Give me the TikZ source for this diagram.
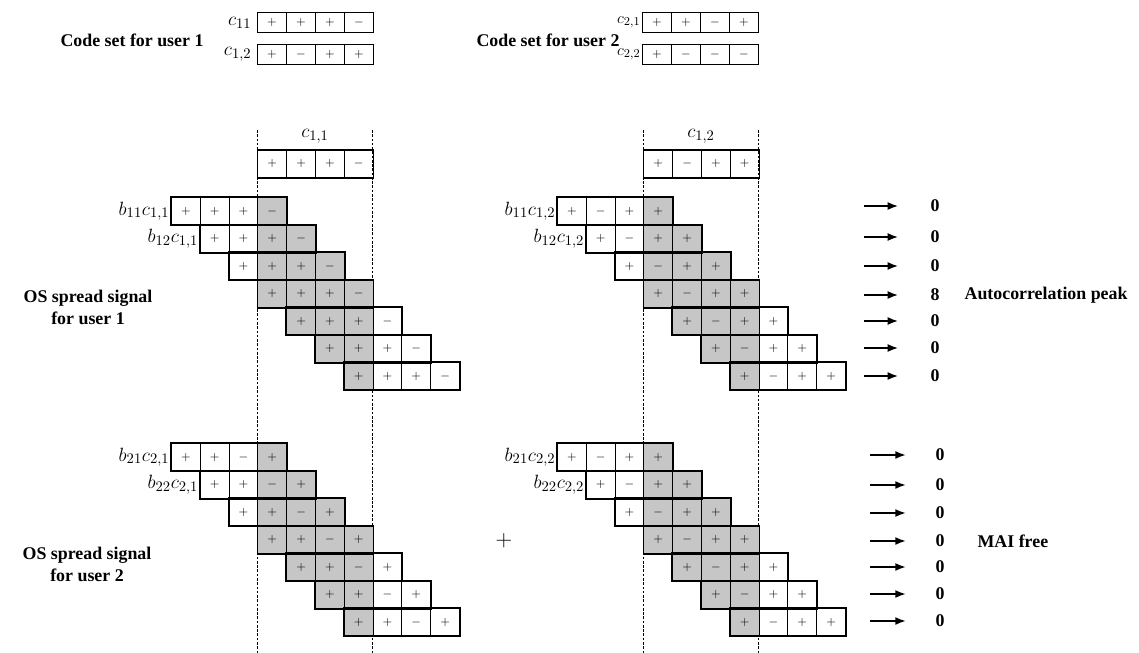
\documentclass[tikz,border=0pt]{standalone}
\usepackage{fontspec}
\setmainfont{Liberation Serif}
\usetikzlibrary{positioning,arrows.meta}
\tikzset{
  chip/.style={draw,line width=0.7pt,minimum width=21.6pt,minimum height=20.6pt,
    inner sep=0pt,anchor=north west,font=\fontsize{9.5}{10}\selectfont},
  chip-code/.style={chip,minimum height=15pt},
  chip-head/.style={chip,minimum height=20.2pt},
  row-frame/.style={draw,line width=1.3pt},
  txt/.style={font=\fontsize{13.4}{16.5}\selectfont\bfseries,align=center,inner sep=1pt},
  sym/.style={font=\fontsize{15}{17}\selectfont,inner sep=1pt},
  bound/.style={line width=1pt,dash pattern=on 2pt off 1.2pt},
  arrow/.style={-{Latex[length=8pt,width=6pt]},line width=1.3pt},
}

\begin{document}
\begin{tikzpicture}[x=0.75pt,y=-0.75pt]
  \useasboundingbox (0,0) rectangle (1139,653);

  % code sets
  \node[txt] (set1) at (132,40) {Code set for user 1};
  \node[txt] (set2) at (548,40) {Code set for user 2};
  \foreach \s [count=\j from 0] in {+,+,+,-}
    \node[chip-code] (c11-\j) at (257+\j*29,12) {$\s$};
  \foreach \s [count=\j from 0] in {+,-,+,+}
    \node[chip-code] (c12-\j) at (257+\j*29,44) {$\s$};
  \foreach \s [count=\j from 0] in {+,+,-,+}
    \node[chip-code] (c21-\j) at (642+\j*29,12) {$\s$};
  \foreach \s [count=\j from 0] in {+,-,-,-}
    \node[chip-code] (c22-\j) at (642+\j*29,44) {$\s$};
  \node[sym,left=3pt of c11-0] (c11-name) {$c_{11}$};
  \node[sym,left=3pt of c12-0] (c12-name) {$c_{1,2}$};
  \node[sym,left=0pt of c21-0,font=\fontsize{13}{15}\selectfont] (c21-name) {$c_{2,1}$};
  \node[sym,left=0pt of c22-0,font=\fontsize{13}{15}\selectfont] (c22-name) {$c_{2,2}$};

  % correlation windows
  \foreach \blk/\x in {ua/257.4,ub/643.4} {
    \coordinate (\blk-top) at (\x,130);
    \coordinate (\blk-bot) at (\x,653);
    \coordinate (\blk-top2) at (\x+115.2,130);
    \coordinate (\blk-bot2) at (\x+115.2,653);
    \draw[bound] (\blk-top) -- (\blk-bot);
    \draw[bound] (\blk-top2) -- (\blk-bot2);
  }
  \foreach \s [count=\j from 0] in {+,+,+,-}
    \node[chip-head] (ua-h-\j) at (257.4+\j*28.8,150) {$\s$};
  \foreach \s [count=\j from 0] in {+,-,+,+}
    \node[chip-head] (ub-h-\j) at (643.4+\j*28.8,150) {$\s$};
  \draw[row-frame] (ua-h-0.north west) rectangle (ua-h-3.south east);
  \draw[row-frame] (ub-h-0.north west) rectangle (ub-h-3.south east);
  \node[sym] (ua-name) at (315,136) {$c_{1,1}$};
  \node[sym] (ub-name) at (701,136) {$c_{1,2}$};

  % OS spread signals
  \foreach \blk/\x/\y/\code in {ua/171/197/{+,+,+,-},ub/557/197/{+,-,+,+},
                                la/171/443/{+,+,-,+},lb/557/443/{+,-,+,+}} {
    \foreach \i in {0,...,6} {
      \foreach \s [count=\j from 0] in \code {
        \pgfmathtruncatemacro\k{\i+\j-3}
        \pgfmathtruncatemacro\tone{ifthenelse(and(\k>=0,\k<=3),45,0)}
        \node[chip,fill=gray!\tone] (\blk-\i-\j) at (\x+\i*28.8+\j*28.8,\y+\i*27.5) {$\s$};
      }
    }
    \foreach \i in {0,...,6}
      \draw[row-frame] (\blk-\i-0.north west) rectangle (\blk-\i-3.south east);
  }
  \node[sym,left=0pt of ua-0-0] (ua-lab0) {$b_{11}c_{1,1}$};
  \node[sym,left=0pt of ua-1-0] (ua-lab1) {$b_{12}c_{1,1}$};
  \node[sym,left=0pt of ub-0-0] (ub-lab0) {$b_{11}c_{1,2}$};
  \node[sym,left=0pt of ub-1-0] (ub-lab1) {$b_{12}c_{1,2}$};
  \node[sym,left=0pt of la-0-0] (la-lab0) {$b_{21}c_{2,1}$};
  \node[sym,left=0pt of la-1-0] (la-lab1) {$b_{22}c_{2,1}$};
  \node[sym,left=0pt of lb-0-0] (lb-lab0) {$b_{21}c_{2,2}$};
  \node[sym,left=0pt of lb-1-0] (lb-lab1) {$b_{22}c_{2,2}$};

  \node[txt] (os1) at (88,307) {OS spread signal\\for user 1};
  \node[txt] (os2) at (87,564) {OS spread signal\\for user 2};
  \node[font=\fontsize{18}{20}\selectfont,inner sep=0pt] (sum) at (504,541) {$+$};

  % correlator outputs
  \foreach \yy/\v [count=\n] in {206/0,237/0,266/0,295/8,321/0,348/0,376/0} {
    \coordinate (ua-in\n) at (864,\yy);
    \node[txt] (ua-out\n) at (935,\yy) {\v};
    \draw[arrow,shorten >=23pt] (ua-in\n) -- (ua-out\n);
  }
  \foreach \yy [count=\n] in {455,485,513,541,567,594,621} {
    \coordinate (lb-in\n) at (870,\yy);
    \node[txt] (lb-out\n) at (940,\yy) {0};
    \draw[arrow,shorten >=21pt] (lb-in\n) -- (lb-out\n);
  }
  \node[txt,anchor=west] (peak) at (963,295) {Autocorrelation peak};
  \node[txt,anchor=west] (mai) at (976,541) {MAI free};
\end{tikzpicture}
\end{document}
